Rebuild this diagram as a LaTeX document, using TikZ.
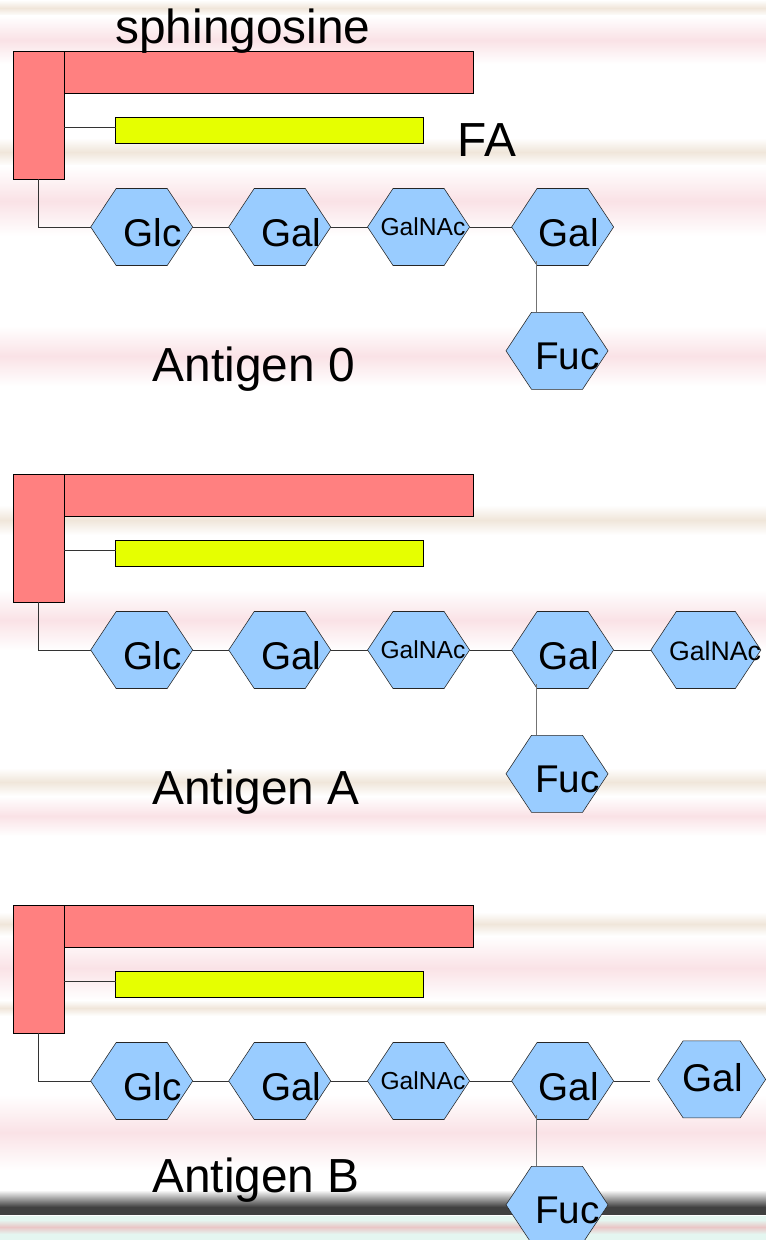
\documentclass[tikz,border=0pt]{standalone}
\usepackage{fontspec}
\setmainfont{Liberation Sans}
\usepackage{xcolor}
\usepackage{tikz}
\usetikzlibrary{shapes.symbols, positioning}

\definecolor{lipred}{RGB}{255,128,128}
\definecolor{fayellow}{RGB}{230,255,0}
\definecolor{hexblue}{RGB}{153,204,255}
\definecolor{bgpink}{RGB}{250,226,230}
\definecolor{bgbeige}{RGB}{240,230,218}
\definecolor{bgmint}{RGB}{228,246,240}
\definecolor{bgrose}{RGB}{234,198,198}

\tikzstyle{headbox} = [rectangle, draw=black, fill=lipred, minimum width=1.275cm, minimum height=3.2cm, anchor=north west, inner sep=0pt, outer sep=0pt]
\tikzstyle{tailbar} = [rectangle, draw=black, fill=lipred, minimum width=10.225cm, minimum height=1.06cm, anchor=north west, inner sep=0pt, outer sep=0pt]
\tikzstyle{fatty} = [rectangle, draw=black, fill=fayellow, minimum width=7.675cm, minimum height=0.65cm, anchor=west, inner sep=0pt, outer sep=0pt]
\tikzstyle{sugar} = [signal, signal to=west and east, signal pointer angle=113, draw=black!85, fill=hexblue, minimum width=2.55cm, minimum height=1.925cm, inner sep=0pt, outer sep=0pt]
\tikzstyle{hexlab} = [font=\fontsize{27.5}{27.5}\selectfont, xshift=0.28cm, yshift=-0.15cm]
\tikzstyle{nactxt} = [font=\fontsize{17.5}{17.5}\selectfont, xshift=0.11cm]
\tikzstyle{bigtxt} = [font=\fontsize{34}{34}\selectfont, anchor=base]
\tikzstyle{linkline} = [draw=black!80, line width=0.6pt]
\tikzstyle{stemline} = [draw=black!55, line width=1pt]

\begin{document}
\begin{tikzpicture}[x=0.025cm, y=-0.025cm]
    \useasboundingbox (0,0) rectangle (766,1240);

    % Background stripes
    \fill[white] (0,0) rectangle (766,1240);
    \foreach \ya/\yb/\c in {0/16/bgbeige, 16/64/bgpink, 138/166/bgbeige, 166/236/bgpink, 326/386/bgpink,
                            505/535/bgbeige, 590/650/bgpink, 768/796/bgbeige, 796/836/bgpink,
                            912/936/bgbeige, 936/1000/bgpink, 1000/1016/bgbeige, 1095/1170/bgpink}
        \shade[top color=white, bottom color=white, middle color=\c] (0,\ya) rectangle (766,\yb);
    \shade[top color=white, bottom color=black!75] (0,1190) rectangle (766,1207);
    \fill[black!75] (0,1207) rectangle (766,1215);
    \fill[bgmint] (0,1216) rectangle (766,1240);
    \shade[top color=bgmint, bottom color=bgmint, middle color=bgrose] (0,1220) rectangle (766,1234);

    % Antigen 0
    \node[headbox] (headO) at (13.3,51) {};
    \node[tailbar] (sphO) at (headO.north east) {};
    \node[fatty] (faO) at (115.7,130.3) {};
    \node[sugar, label={[hexlab]center:Glc}] (glcO) at (141.7,227) {};
    \node[sugar, right=0.9cm of glcO, label={[hexlab, xshift=0.01cm]center:Gal}] (galO) {};
    \node[sugar, right=0.92cm of galO, label={[nactxt]center:GalNAc}] (nacO) {};
    \node[sugar, right=1.05cm of nacO, label={[hexlab, xshift=-0.13cm]center:Gal}] (galtO) {};
    \node[sugar, below=1.17cm of galtO, xshift=-0.14cm, label={[hexlab, xshift=-0.02cm, yshift=0.02cm]center:Fuc}] (fucO) {};
    \node[bigtxt] (sph) at (243,43.3) {sphingosine};
    \node[bigtxt] (fa) at (487,156.7) {FA};
    \node[bigtxt] (antO) at (254,381.7) {Antigen 0};
    \coordinate (stO) at ([xshift=-0.65cm, yshift=0.125cm]galtO.south);
    \draw[linkline] ([yshift=0.065cm]faO.west -| headO.east) -- ([yshift=0.065cm]faO.west);
    \draw[linkline] (headO.south) |- (glcO.west);
    \draw[linkline] (glcO.east) -- (galO.west);
    \draw[linkline] (galO.east) -- (nacO.west);
    \draw[linkline] (nacO.east) -- (galtO.west);
    \draw[stemline] (stO) -- (stO |- fucO.north);

    % Antigen A
    \node[headbox] (headA) at (13.3,474) {};
    \node[tailbar] (sphA) at (headA.north east) {};
    \node[fatty] (faA) at (115.7,553.3) {};
    \node[sugar, label={[hexlab]center:Glc}] (glcA) at (141.7,650) {};
    \node[sugar, right=0.9cm of glcA, label={[hexlab, xshift=0.01cm]center:Gal}] (galA) {};
    \node[sugar, right=0.92cm of galA, label={[nactxt]center:GalNAc}] (nacA) {};
    \node[sugar, right=1.05cm of nacA, label={[hexlab, xshift=-0.13cm]center:Gal}] (galtA) {};
    \node[sugar, below=1.17cm of galtA, xshift=-0.14cm, label={[hexlab, xshift=-0.02cm, yshift=0.02cm]center:Fuc}] (fucA) {};
    \node[sugar, right=0.93cm of galtA, minimum width=2.75cm, label={[nactxt, font=\fontsize{19}{19}\selectfont, xshift=0.12cm, yshift=-0.035cm]center:GalNAc}] (nactA) {};
    \node[bigtxt] (antA) at (256,804.7) {Antigen A};
    \coordinate (stA) at ([xshift=-0.65cm, yshift=0.125cm]galtA.south);
    \draw[linkline] ([yshift=0.065cm]faA.west -| headA.east) -- ([yshift=0.065cm]faA.west);
    \draw[linkline] (headA.south) |- (glcA.west);
    \draw[linkline] (glcA.east) -- (galA.west);
    \draw[linkline] (galA.east) -- (nacA.west);
    \draw[linkline] (nacA.east) -- (galtA.west);
    \draw[linkline] (galtA.east) -- (nactA.west);
    \draw[stemline] (stA) -- (stA |- fucA.north);

    % Antigen B
    \node[headbox] (headB) at (13.3,905) {};
    \node[tailbar] (sphB) at (headB.north east) {};
    \node[fatty] (faB) at (115.7,984.3) {};
    \node[sugar, label={[hexlab]center:Glc}] (glcB) at (141.7,1081) {};
    \node[sugar, right=0.9cm of glcB, label={[hexlab, xshift=0.01cm]center:Gal}] (galB) {};
    \node[sugar, right=0.92cm of galB, label={[nactxt]center:GalNAc}] (nacB) {};
    \node[sugar, right=1.05cm of nacB, label={[hexlab, xshift=-0.13cm]center:Gal}] (galtB) {};
    \node[sugar, below=1.17cm of galtB, xshift=-0.14cm, label={[hexlab, xshift=-0.02cm, yshift=0.02cm]center:Fuc}] (fucB) {};
    \node[sugar, right=1.1cm of galtB, minimum width=2.7cm, yshift=0.04cm, label={[hexlab, xshift=-0.25cm, yshift=0.2cm]center:Gal}] (galxB) {};
    \node[bigtxt] (antB) at (256,1192.7) {Antigen B};
    \coordinate (stB) at ([xshift=-0.65cm, yshift=0.125cm]galtB.south);
    \draw[linkline] ([yshift=0.065cm]faB.west -| headB.east) -- ([yshift=0.065cm]faB.west);
    \draw[linkline] (headB.south) |- (glcB.west);
    \draw[linkline] (glcB.east) -- (galB.west);
    \draw[linkline] (galB.east) -- (nacB.west);
    \draw[linkline] (nacB.east) -- (galtB.west);
    \draw[linkline, shorten >=0.2cm] (galtB.east) -- (galtB.east -| galxB.west);
    \draw[stemline] (stB) -- (stB |- fucB.north);

\end{tikzpicture}
\end{document}
